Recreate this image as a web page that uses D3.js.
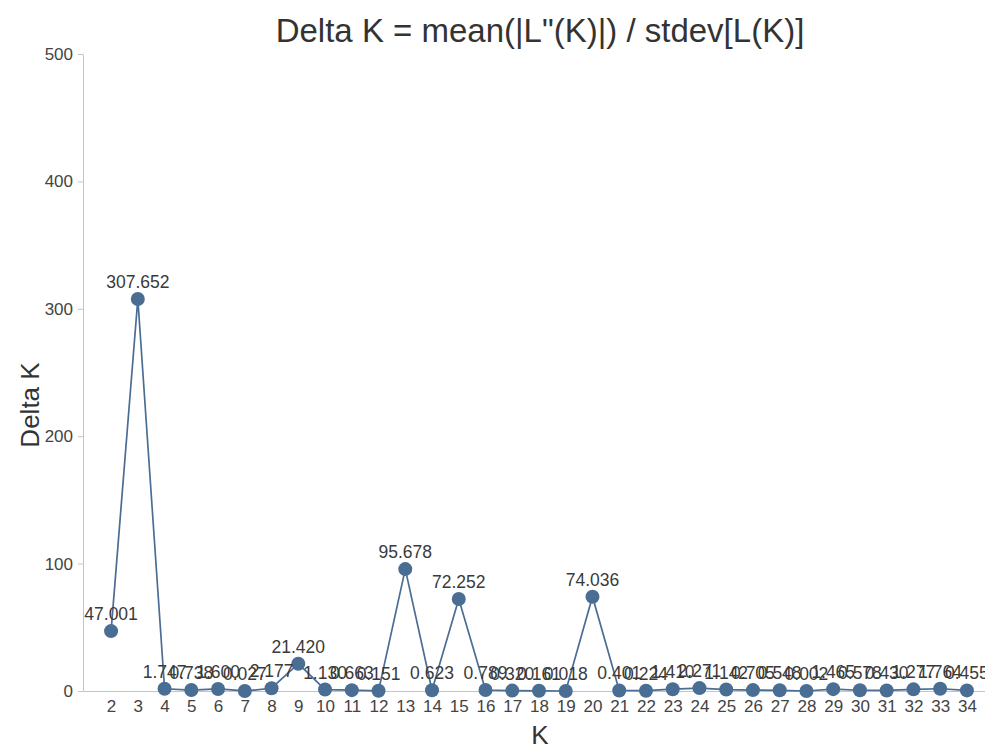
<!DOCTYPE html>
<html><head><meta charset="utf-8">
<script src="https://cdn.jsdelivr.net/npm/d3@7"></script>
<style>
html,body{margin:0;padding:0;background:#fff;overflow:hidden;}
text{font-family:"Liberation Sans",Arial,sans-serif;}
</style></head>
<body>
<svg id="chart" width="985" height="747"></svg>
<script>
const kValues = [2,3,4,5,6,7,8,9,10,11,12,13,14,15,16,17,18,19,20,21,22,23,24,25,26,27,28,29,30,31,32,33,34];
const deltaK = [47.001,307.652,1.747,0.738,1.600,0.027,2.177,21.420,1.130,0.663,0.151,95.678,0.623,72.252,0.789,0.320,0.161,0.018,74.036,0.401,0.224,1.410,2.271,1.142,0.705,0.548,0.002,1.465,0.578,0.430,1.277,1.764,0.455];
const yTicks = [0,100,200,300,400,500];
const titleText = "Delta K = mean(|L\"(K)|) / stdev[L(K)]";
const xLabel = "K";
const yLabel = "Delta K";

(function(){
const svg = d3.select("#chart");
const mLeft = 83, mRight = 995, mTop = 54, mBottom = 691;
const color = "#4a6d94";

const x = d3.scalePoint().domain(kValues).range([mLeft, mRight]).padding(1.05);
const y = d3.scaleLinear().domain([0,500]).range([mBottom, mTop]);

const yAxis = svg.append("g").attr("transform",`translate(${mLeft},0)`)
  .call(d3.axisLeft(y).tickValues(yTicks).tickSize(5).tickPadding(5).tickSizeOuter(0));
yAxis.selectAll("path,line").attr("stroke","#c4c4c4");
yAxis.selectAll("text").attr("font-size",17).attr("fill","#444");

const xAxis = svg.append("g").attr("transform",`translate(0,${mBottom})`)
  .call(d3.axisBottom(x).tickSize(0).tickPadding(9).tickSizeOuter(0));
xAxis.selectAll("path,line").attr("stroke","#c4c4c4");
xAxis.selectAll("text").attr("font-size",17).attr("fill","#444");

const data = kValues.map((k,i)=>({k, v: deltaK[i]}));

svg.append("path").datum(data)
  .attr("fill","none").attr("stroke",color).attr("stroke-width",1.7)
  .attr("d", d3.line().x(d=>x(d.k)).y(d=>y(d.v)));

svg.append("g").selectAll("circle").data(data).join("circle")
  .attr("cx",d=>x(d.k)).attr("cy",d=>y(d.v)).attr("r",7).attr("fill",color);

svg.append("g").selectAll("text").data(data).join("text")
  .attr("x",d=>x(d.k)).attr("y",d=>y(d.v)-11)
  .attr("text-anchor","middle").attr("font-size",17.5).attr("fill","#3a3a3a")
  .text(d=>d.v.toFixed(3));

svg.append("text").attr("x",540).attr("y",42).attr("text-anchor","middle")
  .attr("font-size",33).attr("fill","#333").text(titleText);
svg.append("text").attr("x",540).attr("y",744).attr("text-anchor","middle")
  .attr("font-size",26).attr("fill","#333").text(xLabel);
svg.append("text").attr("transform","translate(39,405) rotate(-90)").attr("text-anchor","middle")
  .attr("font-size",26).attr("fill","#333").text(yLabel);
})();
</script>
</body></html>
